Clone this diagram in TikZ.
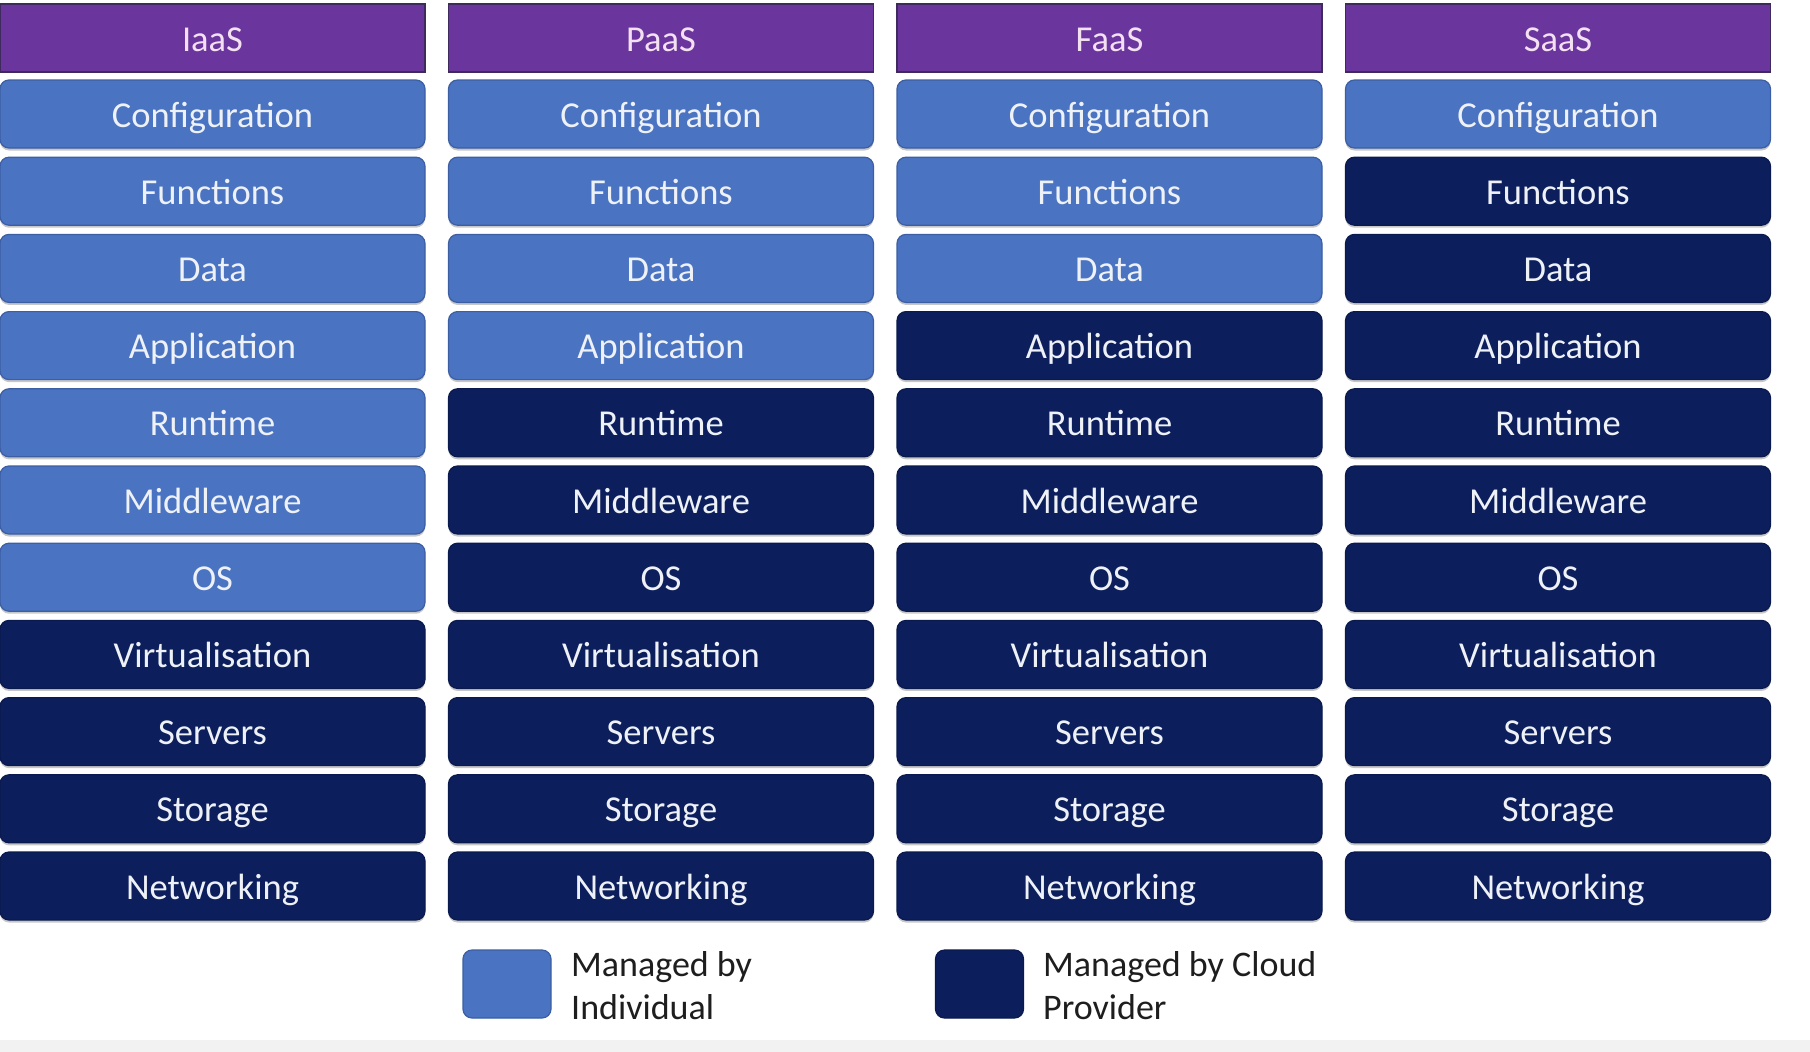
\documentclass[tikz,border=0pt]{standalone}
\usepackage{fontspec}
\setmainfont{Carlito}
\usetikzlibrary{shadows}
\definecolor{hdr}{HTML}{6A359C}
\definecolor{hdredge}{HTML}{3E2A5C}
\definecolor{usr}{HTML}{4A73C2}
\definecolor{usredge}{HTML}{3C5FA3}
\definecolor{prov}{HTML}{0C1F5C}
\definecolor{provedge}{HTML}{0A1A4E}
\definecolor{boxtext}{HTML}{EEF1F6}
\definecolor{hdrtext}{HTML}{F3E1F2}
\definecolor{strip}{HTML}{F2F2F2}
\definecolor{legtext}{HTML}{1E1E1E}

\begin{document}
\begin{tikzpicture}[x=1pt,y=1pt,
  layer/.style={rounded corners=9pt, minimum width=425pt, minimum height=68pt,
    inner sep=0pt, text height=28pt, text depth=2pt,
    font=\fontsize{36.5}{40}\selectfont, text=boxtext, line width=1.2pt,
    drop shadow={shadow xshift=0pt, shadow yshift=-2.5pt, opacity=0.22, fill=black}},
  user/.style={layer, fill=usr, draw=usredge},
  provider/.style={layer, fill=prov, draw=provedge},
  header/.style={minimum width=425pt, minimum height=68pt, inner sep=0pt,
    text height=28pt, text depth=2pt,
    fill=hdr, draw=hdredge, line width=1.5pt, text=hdrtext,
    font=\fontsize{36.5}{40}\selectfont},
  legendkey/.style={rounded corners=9pt, minimum width=88pt, minimum height=68pt,
    inner sep=0pt, line width=1.2pt},
  legendtext/.style={align=left, anchor=west, inner sep=0pt,
    font=\fontsize{36}{43}\selectfont, text=legtext}
]
% canvas and bottom strip
\useasboundingbox (0,0) rectangle (1810,-1052);
\fill[white] (0,0) rectangle (1810,-1052);
\fill[strip] (0,-1040) rectangle (1810,-1052);

% one column per service model; \cut is the first layer run by the provider
\foreach \name/\cut [count=\c from 0] in {IaaS/8, PaaS/5, FaaS/4, SaaS/2} {
  \pgfmathsetmacro{\cx}{212.5 + \c*448.5}
  \node[header] (\name-0) at (\cx,-38) {\name};
  \foreach \lab [count=\r] in {Configuration, Functions, Data, Application,
      Runtime, Middleware, OS, Virtualisation, Servers, Storage, Networking} {
    \ifnum\r<\cut\def\kind{user}\else\def\kind{provider}\fi
    \node[\kind] (\name-\r) at (\cx,{-(114 + (\r-1)*77.2)}) {\lab};
  }
}

% legend
\node[legendkey, fill=usr, draw=usredge] (keyuser) at (507,-984) {};
\node[legendtext] (txtuser) at (571,-985.5) {Managed by\\Individual};
\node[legendkey, fill=prov, draw=provedge] (keyprov) at (979.5,-984) {};
\node[legendtext] (txtprov) at (1043,-985.5) {Managed by Cloud\\Provider};
\end{tikzpicture}
\end{document}
